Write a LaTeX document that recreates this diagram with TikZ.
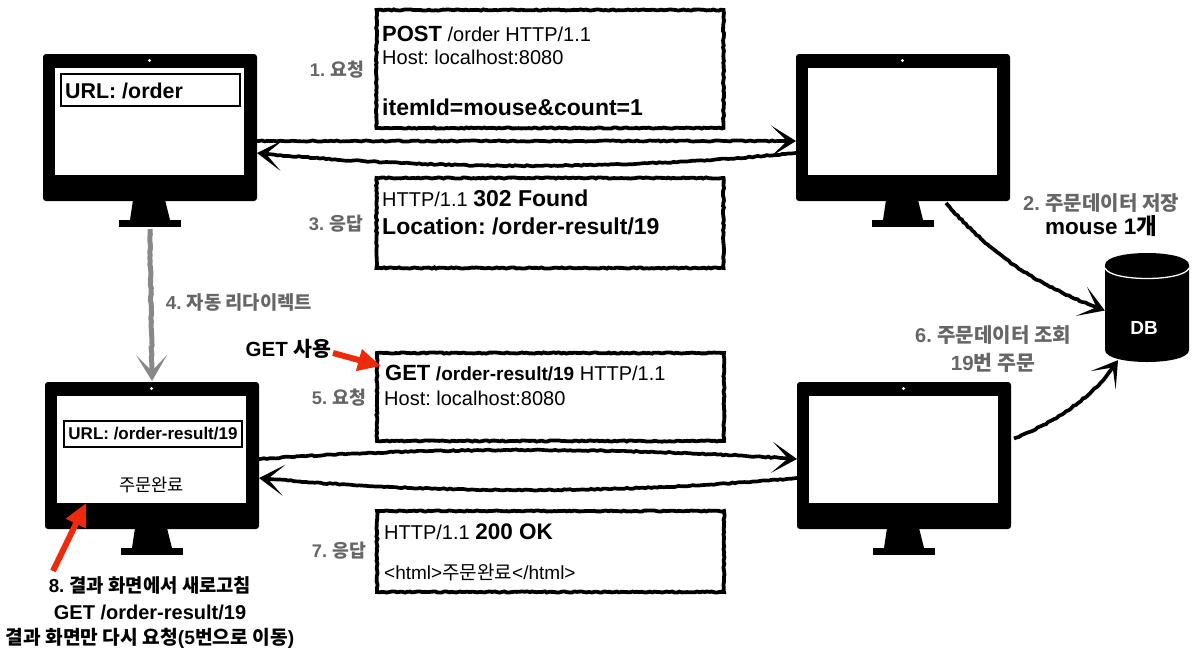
\documentclass[tikz,border=0pt]{standalone}
\usepackage{fontspec}
\setmainfont{Liberation Sans}
\newfontfamily\kr{Noto Sans CJK KR}
\usetikzlibrary{arrows.meta,calc,decorations.pathmorphing}
\newcommand{\ko}[1]{{\kr #1}}
\definecolor{lbl}{HTML}{666666}
\definecolor{redarrow}{HTML}{EE2A0D}
\definecolor{grayarrow}{HTML}{888888}
\tikzset{
  x=1pt,y=-1pt,
  monbody/.style={fill=black,rounded corners=3pt,minimum width=214pt,minimum height=147pt,inner sep=0pt,outer sep=0pt},
  monscreen/.style={fill=white,minimum width=189pt,minimum height=107pt,inner sep=0pt,outer sep=0pt},
  rough/.style={decorate,decoration={random steps,segment length=3pt,amplitude=0.6pt,pre length=2pt,post length=18pt}},
  msgbox/.style={draw=black,line width=3.8pt,fill=white,inner sep=0pt,decorate,decoration={random steps,segment length=2.5pt,amplitude=0.6pt}},
  flow/.style={draw=black,line width=3.7pt,rough,-{Stealth[length=25pt,width=31pt,inset=16pt]}},
  redflow/.style={draw=redarrow,line width=6pt,-{Triangle[length=23pt,width=21pt]}},
  grayflow/.style={draw=grayarrow,line width=5pt,rough,-{Stealth[length=26pt,width=31pt,inset=16pt]}},
  tx/.style={anchor=base west,inner sep=0pt,font=\fontsize{20}{22}\selectfont},
  lab/.style={inner sep=0pt,text=lbl,font=\fontsize{18.3}{20}\selectfont\bfseries},
  blk/.style={inner sep=0pt,text=black,font=\fontsize{19}{20}\selectfont\bfseries},
  urlbox/.style={draw=black,line width=1.1pt,fill=white,inner sep=0pt},
}
\newcommand{\bigb}[1]{{\fontsize{23}{24}\selectfont\bfseries #1}}
\newcommand{\monitor}[3]{%
  \begin{scope}[shift={(#2,#3)}]
    \fill (90,146) -- (122,146) -- (127,166) -- (87,166) -- cycle;
    \fill (76,166) rectangle (138,173);
    \node[monbody] (#1) at (107,73.5) {};
    \node[monscreen] (#1s) at (106.5,67.5) {};
    \fill[white] (106.5,6.5) circle (1.6pt);
  \end{scope}}
\begin{document}
\frenchspacing
\begin{tikzpicture}
\useasboundingbox[fill=white] (0,0) rectangle (1201,662);
\monitor{ma}{43}{54}
\monitor{mb}{796}{54}
\monitor{mc}{45}{382}
\monitor{md}{797}{382}

% address bars
\node[urlbox,minimum width=179pt,minimum height=32pt] (urla) at (150.5,90) {};
\node[tx,font=\fontsize{21.4}{24}\selectfont\bfseries] (urlat) at (65,98) {URL: /order};
\node[urlbox,minimum width=178pt,minimum height=26pt] (urlc) at (153,434) {};
\node[inner sep=0pt,font=\fontsize{17}{20}\selectfont\bfseries] (urlct) at (153,434) {URL: /order-result/19};
\node[inner sep=0pt,font=\fontsize{17.6}{20}\selectfont\kr] (done) at (151.5,485) {주문완료};

% message boxes
\node[msgbox,minimum width=347pt,minimum height=118pt] (boxa) at (550,69) {};
\node[msgbox,minimum width=347pt,minimum height=90pt] (boxb) at (550,223) {};
\node[msgbox,minimum width=347pt,minimum height=88pt] (boxc) at (550.5,397) {};
\node[msgbox,minimum width=347pt,minimum height=81pt] (boxd) at (550.5,551.5) {};

\node[tx] (t1) at (382,41) {{\fontsize{22}{24}\selectfont\bfseries POST} /order HTTP/1.1};
\node[tx] (t2) at (382,64.5) {Host: localhost:8080};
\node[tx] (t3) at (382,115) {\bigb{itemId=mouse\&count=1}};
\node[tx] (t4) at (382,206) {HTTP/1.1 \bigb{302 Found}};
\node[tx] (t5) at (382,234) {\bigb{Location: /order-result/19}};
\node[tx] (t6) at (385,380) {{\fontsize{22}{24}\selectfont\bfseries GET} {\fontsize{19}{22}\selectfont\bfseries /order-result/19} HTTP/1.1};
\node[tx] (t7) at (384,405) {Host: localhost:8080};
\node[tx] (t8) at (384,539) {HTTP/1.1 {\fontsize{22.5}{24}\selectfont\bfseries 200 OK}};
\node[tx,font=\fontsize{19}{20}\selectfont] (t9) at (384,579) {<html>{\kr 주문완료}</html>};

% database
\path[fill=black] (1105,265) .. controls (1105,249) and (1189,249) .. (1189,265)
  -- (1189,350) .. controls (1189,366) and (1105,366) .. (1105,350) -- cycle;
\draw[white,line width=1.3pt] (1105,268) .. controls (1110,282) and (1184,282) .. (1189,268);
\node[inner sep=0pt,minimum width=84pt,minimum height=109pt] (db) at (1147,307.5) {};
\node[inner sep=0pt,text=white,font=\fontsize{19}{20}\selectfont\bfseries] (dbt) at (1144,328) {DB};

% connectors
\draw[flow] ([yshift=-13.5pt]ma.east) -- ([yshift=-13.5pt]mb.west);
\draw[flow] ([yshift=-25.5pt]mb.west) .. controls (620,170) and (430,170) .. ([yshift=-25.5pt]ma.east);
\draw[flow] ([yshift=-3.5pt]mc.east) .. controls (430,447) and (620,447) .. ([yshift=-3.5pt]md.west);
\draw[flow] ([yshift=-22.5pt]md.west) .. controls (620,494) and (430,494) .. ([yshift=-22.5pt]mc.east);
\draw[flow] ($(mb.south)+(43,2)$) .. controls (1000,265) and (1050,290) .. ([yshift=-3pt]db.west);
\draw[flow] ($(md.east)+(3,-17)$) .. controls (1060,420) and (1095,395) .. ($(db.south)+(-29,-2)$);
\draw[grayflow] ($(ma.south)+(0,28)$) -- ($(mc.north)+(0,-1)$);
\coordinate (geta) at (333,353);
\coordinate (reload) at (53,571);
\draw[redflow] (geta) -- ($(boxc.north west)+(6,15)$);
\draw[redflow] (reload) -- ($(mc.south west)+(41,-26)$);

% labels
\node[lab] (la) at (337,70) {1. \ko{요청}};
\node[lab] (lb) at (336,224) {3. \ko{응답}};
\node[lab,font=\fontsize{18.8}{20}\selectfont\bfseries] (lc) at (239,302) {4. \ko{자동 리다이렉트}};
\node[lab] (ld) at (339,398) {5. \ko{요청}};
\node[lab] (le) at (339,551) {7. \ko{응답}};
\node[lab,font=\fontsize{20}{22}\selectfont\bfseries] (lf) at (1101,203) {2. \ko{주문데이터 저장}};
\node[blk,font=\fontsize{22.5}{24}\selectfont\bfseries] (lg) at (1101,226) {mouse 1\ko{개}};
\node[lab,font=\fontsize{20}{22}\selectfont\bfseries] (lh) at (993,335) {6. \ko{주문데이터 조회}};
\node[lab,font=\fontsize{20.5}{22}\selectfont\bfseries] (li) at (993,363) {19\ko{번 주문}};
\node[blk,font=\fontsize{20.5}{22}\selectfont\bfseries] (lj) at (288.5,349) {GET \ko{사용}};
\node[blk,font=\fontsize{18.8}{20}\selectfont\bfseries] (lk) at (150,585) {8. \ko{결과 화면에서 새로고침}};
\node[blk,font=\fontsize{20}{22}\selectfont\bfseries] (ll) at (150,612) {GET /order-result/19};
\node[blk,font=\fontsize{19.2}{20}\selectfont\bfseries] (lm) at (150,638) {\ko{결과 화면만 다시 요청}(5\ko{번으로 이동})};
\end{tikzpicture}
\end{document}
